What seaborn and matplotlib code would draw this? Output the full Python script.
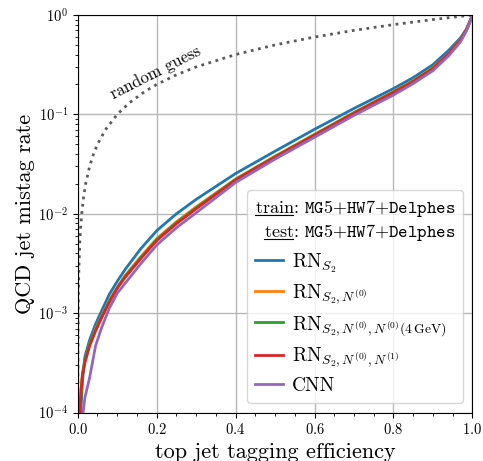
import numpy as np
import pandas as pd
import matplotlib
matplotlib.use("Agg")
import matplotlib.pyplot as plt
import seaborn as sns
from matplotlib.ticker import AutoMinorLocator
from matplotlib.lines import Line2D

# signal efficiency grid shared by all ROC curves
eff = [0.005, 0.008, 0.012, 0.018, 0.03, 0.045, 0.06, 0.08, 0.1, 0.12, 0.16,
       0.2, 0.25, 0.3, 0.4, 0.5, 0.6, 0.7, 0.8, 0.85, 0.9, 0.94, 0.97, 0.985,
       0.995, 1.0]

# log10 of the QCD mistag rate
rn_s2_log = [-4.3, -3.97, -3.68, -3.44, -3.27, -3.11, -2.98, -2.81, -2.68, -2.56,
             -2.35, -2.17, -2.0, -1.855, -1.595, -1.37, -1.15, -0.94, -0.74, -0.63,
             -0.50, -0.355, -0.23, -0.14, -0.05, 0.0]
rn_n0_log = [-3.98, -3.78, -3.60, -3.48, -3.31, -3.16, -3.03, -2.87, -2.74, -2.62,
             -2.43, -2.25, -2.08, -1.93, -1.65, -1.42, -1.20, -0.98, -0.77, -0.66,
             -0.53, -0.385, -0.245, -0.148, -0.054, 0.0]
rn_n0_4gev_log = [-4.1, -3.85, -3.62, -3.47, -3.31, -3.17, -3.04, -2.88, -2.745, -2.63,
                  -2.44, -2.26, -2.09, -1.94, -1.655, -1.425, -1.205, -0.985, -0.775, -0.665,
                  -0.535, -0.388, -0.248, -0.15, -0.055, 0.0]
rn_n0_n1_log = [-4.0, -3.8, -3.62, -3.50, -3.33, -3.18, -3.05, -2.89, -2.75, -2.64,
                -2.45, -2.27, -2.10, -1.95, -1.66, -1.43, -1.21, -0.99, -0.78, -0.67,
                -0.54, -0.39, -0.25, -0.15, -0.055, 0.0]
cnn_log = [-4.6, -4.35, -4.05, -3.85, -3.65, -3.33, -3.15, -2.95, -2.80, -2.70,
           -2.50, -2.315, -2.14, -1.99, -1.685, -1.45, -1.23, -1.01, -0.805, -0.69,
           -0.56, -0.41, -0.27, -0.16, -0.06, 0.0]

# random guess: mistag rate equals efficiency
guess = [0.0001, 0.0002, 0.0004, 0.0007, 0.001, 0.0015, 0.002, 0.003, 0.005, 0.007,
         0.01, 0.015, 0.02, 0.03, 0.04, 0.05, 0.07, 0.1, 0.13, 0.17, 0.2, 0.25, 0.3,
         0.4, 0.5, 0.6, 0.7, 0.8, 0.9, 1.0]

labels = [r"$\mathrm{RN}_{S_2}$",
          r"$\mathrm{RN}_{S_2,N^{(0)}}$",
          r"$\mathrm{RN}_{S_2,N^{(0)},N^{(0)}(4\,\mathrm{GeV})}$",
          r"$\mathrm{RN}_{S_2,N^{(0)},N^{(1)}}$",
          "CNN"]
series = [rn_s2_log, rn_n0_log, rn_n0_4gev_log, rn_n0_n1_log, cnn_log]
colors = ["#1f77b4", "#ff7f0e", "#2ca02c", "#d62728", "#9467bd"]

plt.rcParams["font.family"] = "cmr10"
plt.rcParams["mathtext.fontset"] = "cm"
plt.rcParams["axes.unicode_minus"] = False
plt.rcParams["axes.formatter.use_mathtext"] = True

fig, ax = plt.subplots(figsize=(4.83, 4.61), dpi=100)
fig.subplots_adjust(left=0.161, right=0.978, bottom=0.105, top=0.9675)

sns.lineplot(x=guess, y=guess, ax=ax, color="#5a5a5a", lw=2, linestyle=":")

handles = []
for vals, lab, col in zip(series, labels, colors):
    df = pd.DataFrame({"eff": eff, "mistag": np.power(10.0, vals)})
    sns.lineplot(data=df, x="eff", y="mistag", ax=ax, color=col, lw=2, sort=False)
    handles.append(Line2D([], [], color=col, lw=2, label=lab))

ax.set_yscale("log")
ax.set_xlim(0, 1)
ax.set_ylim(1e-4, 1)
ax.xaxis.set_minor_locator(AutoMinorLocator(4))
ax.grid(True, which="major", color="#b8b8b8", lw=1)
ax.set_axisbelow(True)
ax.tick_params(labelsize=10.5)
ax.set_xlabel("top jet tagging efficiency", fontsize=16, labelpad=4)
ax.set_ylabel("QCD jet mistag rate", fontsize=16, labelpad=2)

ax.text(0.198, 0.264, "random guess", fontsize=12, rotation=27,
        ha="center", va="center", rotation_mode="anchor")

title = "train: $\\mathtt{MG5{+}HW7{+}Delphes}$\ntest: $\\mathtt{MG5{+}HW7{+}Delphes}$"
leg = ax.legend(handles=handles, loc="lower right", fontsize=14, title=title,
                title_fontsize=13, alignment="left", handlelength=1.45,
                handletextpad=0.45, labelspacing=0.4)
leg.get_title().set_multialignment("right")

# underline "train" and "test" in the legend title
fig.canvas.draw()
renderer = fig.canvas.get_renderer()
ttl = leg.get_title()
bb = ttl.get_window_extent(renderer)
prop = ttl.get_fontproperties()
line1 = "train: $\\mathtt{MG5{+}HW7{+}Delphes}$"
line2 = "test: $\\mathtt{MG5{+}HW7{+}Delphes}$"
w1, h1, d1 = renderer.get_text_width_height_descent(line1, prop, ismath=True)
w2, h2, d2 = renderer.get_text_width_height_descent(line2, prop, ismath=True)
wtrain = renderer.get_text_width_height_descent("train", prop, ismath=False)[0]
wtest = renderer.get_text_width_height_descent("test", prop, ismath=False)[0]
base1 = bb.y1 - h1 + d1
base2 = bb.y0 + d2
inv = fig.transFigure.inverted()
for x0, w, yb in [(bb.x0, wtrain, base1), (bb.x1 - w2, wtest, base2)]:
    (fx0, fy), (fx1, _) = inv.transform([(x0, yb - 2), (x0 + w, yb - 2)])
    fig.add_artist(Line2D([fx0, fx1], [fy, fy], color="black", lw=0.8,
                          transform=fig.transFigure))

fig.savefig("out.png", dpi=100)
